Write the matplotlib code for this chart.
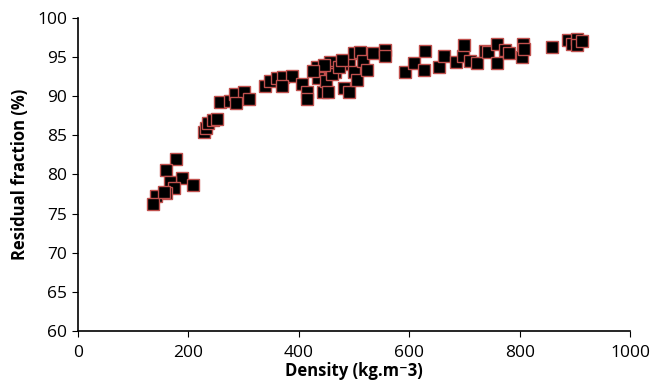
import matplotlib
matplotlib.use("Agg")
import matplotlib.pyplot as plt

density = [177, 159, 188, 167, 209, 173, 159, 141, 136, 155,
           228, 231, 236, 245, 252,
           257, 275, 284, 301, 309, 287,
           339, 348, 360, 372, 387, 369, 406, 414, 414,
           432, 437, 444, 435, 450, 453, 456, 466, 482, 490, 490, 499, 499, 506,
           510, 517, 524, 535, 556, 556, 460, 472, 478, 445, 425,
           592, 609, 627, 629, 653, 662, 685, 698, 699, 710, 722,
           737, 743, 758, 758, 773, 781, 804, 806, 807,
           858, 888, 894, 903, 903, 912]
residual = [82.0, 80.6, 79.6, 79.0, 78.7, 78.3, 77.6, 77.3, 76.2, 77.7,
            85.4, 86.0, 86.6, 86.9, 87.1,
            89.2, 89.4, 90.3, 90.5, 89.7, 89.1,
            91.3, 91.9, 92.3, 92.5, 92.6, 91.3, 91.6, 90.6, 89.6,
            93.7, 92.4, 90.6, 92.3, 91.9, 90.6, 94.4, 93.1, 91.1, 90.6, 94.1, 93.1, 95.5, 92.1,
            95.7, 94.5, 93.4, 95.5, 95.9, 95.2, 92.8, 93.8, 94.6, 94.0, 93.2,
            93.1, 94.3, 93.4, 95.8, 93.7, 95.1, 94.4, 95.1, 96.5, 94.5, 94.3,
            95.8, 95.6, 96.7, 94.3, 95.9, 95.5, 95.0, 96.7, 96.1,
            96.3, 97.2, 96.7, 97.3, 96.5, 97.1]

x_ticks = [0, 200, 400, 600, 800, 1000]
y_ticks = [60, 65, 70, 75, 80, 85, 90, 95, 100]

plt.rcParams['font.family'] = ['Open Sans', 'DejaVu Sans']

fig = plt.figure(figsize=(6.53, 3.92), dpi=100)
ax = fig.add_axes([0.1195, 0.156, 0.8455, 0.798])
ax.plot(density, residual, linestyle='none', marker='s', markersize=8.8,
        markerfacecolor='black', markeredgecolor='#c0504d', markeredgewidth=1.0)
ax.set_xlim(0, 1000)
ax.set_ylim(60, 100)
ax.set_xticks(x_ticks)
ax.set_yticks(y_ticks)
ax.tick_params(labelsize=12.5, length=4, width=0.8, direction='out', colors='black')
ax.tick_params(axis='x', pad=6)
ax.tick_params(axis='y', pad=4)
for s in ['top', 'right']:
    ax.spines[s].set_visible(False)
for s in ['left', 'bottom']:
    ax.spines[s].set_linewidth(1.2)
ax.set_xlabel('Density (kg.m\u207b3)', fontsize=12, fontweight='bold', labelpad=1)
ax.set_ylabel('Residual fraction (%)', fontsize=12, fontweight='bold', labelpad=6)
fig.savefig('out.png', dpi=100)
